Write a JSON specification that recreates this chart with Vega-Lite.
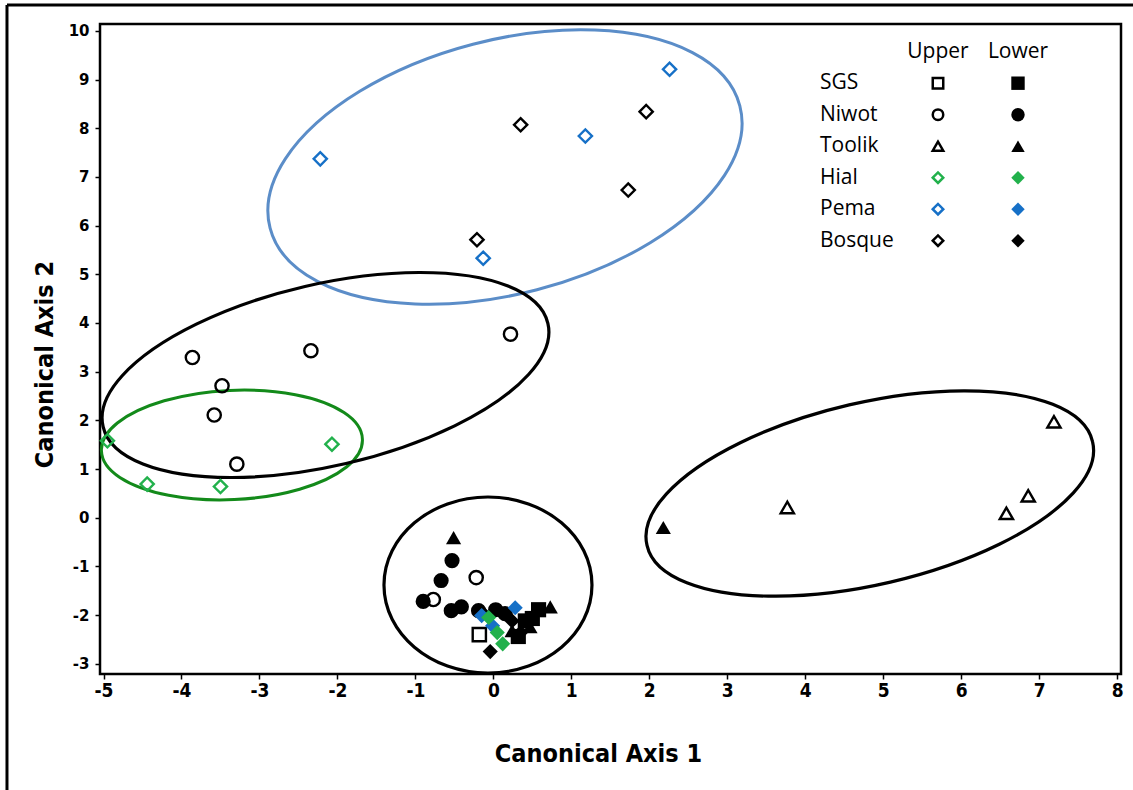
{
  "$schema": "https://vega.github.io/schema/vega-lite/v6.json",
  "width": 1021,
  "height": 650,
  "autosize": "none",
  "padding": {"left": 100, "top": 24, "right": 12, "bottom": 116},
  "background": "white",
  "config": {
    "view": {"stroke": "black", "strokeWidth": 2.5},
    "axisX": {
      "labelExpr": "'' + datum.value",
      "grid": false, "domain": false,
      "tickColor": "black", "tickSize": 5, "tickWidth": 1.5,
      "labelFont": "Liberation Sans Narrow, Arial Narrow, DejaVu Sans Condensed, Liberation Sans, sans-serif", "labelFontWeight": "bold", "labelFontSize": 19, "labelColor": "black", "labelPadding": 2,
      "titleFont": "Liberation Sans Narrow, Arial Narrow, DejaVu Sans Condensed, Liberation Sans, sans-serif", "titleFontWeight": "bold", "titleFontSize": 25, "titleColor": "black",
      "titleX": 498, "titleY": 87, "titleBaseline": "alphabetic", "titleAnchor": "middle", "titleAlign": "center"
    },
    "axisY": {
      "labelExpr": "'' + datum.value",
      "grid": false, "domain": false,
      "tickColor": "black", "tickSize": 5, "tickWidth": 1.5,
      "labelFont": "Verdana, DejaVu Sans, sans-serif", "labelFontWeight": "bold", "labelFontSize": 15, "labelColor": "black", "labelPadding": 6,
      "titleFont": "Liberation Sans Narrow, Arial Narrow, DejaVu Sans Condensed, Liberation Sans, sans-serif", "titleFontWeight": "bold", "titleFontSize": 25, "titleColor": "black",
      "titleX": -48, "titleY": 340, "titleBaseline": "alphabetic", "titleAngle": -90, "titleAlign": "center"
    }
  },
  "datasets": {
    "pts": [
      {"site": "Pema", "elev": "Upper", "ca1": -2.22, "ca2": 7.37},
      {"site": "Pema", "elev": "Upper", "ca1": 1.18, "ca2": 7.84},
      {"site": "Pema", "elev": "Upper", "ca1": 2.26, "ca2": 9.21},
      {"site": "Pema", "elev": "Upper", "ca1": -0.13, "ca2": 5.33},
      {"site": "Bosque", "elev": "Upper", "ca1": 0.35, "ca2": 8.07},
      {"site": "Bosque", "elev": "Upper", "ca1": 1.96, "ca2": 8.34},
      {"site": "Bosque", "elev": "Upper", "ca1": 1.73, "ca2": 6.73},
      {"site": "Bosque", "elev": "Upper", "ca1": -0.21, "ca2": 5.71},
      {"site": "Niwot", "elev": "Upper", "ca1": -3.86, "ca2": 3.29},
      {"site": "Niwot", "elev": "Upper", "ca1": -2.34, "ca2": 3.43},
      {"site": "Niwot", "elev": "Upper", "ca1": 0.22, "ca2": 3.77},
      {"site": "Niwot", "elev": "Upper", "ca1": -3.48, "ca2": 2.71},
      {"site": "Niwot", "elev": "Upper", "ca1": -3.58, "ca2": 2.11},
      {"site": "Niwot", "elev": "Upper", "ca1": -3.29, "ca2": 1.10},
      {"site": "Niwot", "elev": "Upper", "ca1": -0.22, "ca2": -1.23},
      {"site": "Niwot", "elev": "Upper", "ca1": -0.77, "ca2": -1.68},
      {"site": "Hial", "elev": "Upper", "ca1": -2.07, "ca2": 1.51},
      {"site": "Hial", "elev": "Upper", "ca1": -4.95, "ca2": 1.58},
      {"site": "Hial", "elev": "Upper", "ca1": -4.44, "ca2": 0.69},
      {"site": "Hial", "elev": "Upper", "ca1": -3.50, "ca2": 0.64},
      {"site": "Toolik", "elev": "Upper", "ca1": 3.77, "ca2": 0.21},
      {"site": "Toolik", "elev": "Upper", "ca1": 6.58, "ca2": 0.09},
      {"site": "Toolik", "elev": "Upper", "ca1": 6.86, "ca2": 0.45},
      {"site": "Toolik", "elev": "Upper", "ca1": 7.19, "ca2": 1.97},
      {"site": "SGS", "elev": "Upper", "ca1": -0.18, "ca2": -2.40},
      {"site": "Toolik", "elev": "Lower", "ca1": 2.18, "ca2": -0.20},
      {"site": "Toolik", "elev": "Lower", "ca1": -0.51, "ca2": -0.41},
      {"site": "Toolik", "elev": "Lower", "ca1": 0.73, "ca2": -1.83},
      {"site": "Toolik", "elev": "Lower", "ca1": 0.47, "ca2": -2.24},
      {"site": "Toolik", "elev": "Lower", "ca1": 0.24, "ca2": -2.32},
      {"site": "Niwot", "elev": "Lower", "ca1": -0.53, "ca2": -0.88},
      {"site": "Niwot", "elev": "Lower", "ca1": -0.67, "ca2": -1.29},
      {"site": "Niwot", "elev": "Lower", "ca1": -0.90, "ca2": -1.72},
      {"site": "Niwot", "elev": "Lower", "ca1": -0.54, "ca2": -1.91},
      {"site": "Niwot", "elev": "Lower", "ca1": -0.41, "ca2": -1.83},
      {"site": "Niwot", "elev": "Lower", "ca1": -0.19, "ca2": -1.91},
      {"site": "Niwot", "elev": "Lower", "ca1": 0.03, "ca2": -1.89},
      {"site": "Niwot", "elev": "Lower", "ca1": 0.15, "ca2": -1.97},
      {"site": "SGS", "elev": "Lower", "ca1": 0.58, "ca2": -1.89},
      {"site": "SGS", "elev": "Lower", "ca1": 0.41, "ca2": -2.12},
      {"site": "SGS", "elev": "Lower", "ca1": 0.32, "ca2": -2.44},
      {"site": "SGS", "elev": "Lower", "ca1": 0.50, "ca2": -2.07},
      {"site": "Bosque", "elev": "Lower", "ca1": -0.14, "ca2": -1.95},
      {"site": "Bosque", "elev": "Lower", "ca1": 0.24, "ca2": -2.12},
      {"site": "Bosque", "elev": "Lower", "ca1": 0.35, "ca2": -2.36},
      {"site": "Bosque", "elev": "Lower", "ca1": -0.04, "ca2": -2.75},
      {"site": "Pema", "elev": "Lower", "ca1": 0.28, "ca2": -1.85},
      {"site": "Pema", "elev": "Lower", "ca1": -0.15, "ca2": -2.01},
      {"site": "Pema", "elev": "Lower", "ca1": -0.01, "ca2": -2.22},
      {"site": "Hial", "elev": "Lower", "ca1": -0.06, "ca2": -2.05},
      {"site": "Hial", "elev": "Lower", "ca1": 0.05, "ca2": -2.36},
      {"site": "Hial", "elev": "Lower", "ca1": 0.12, "ca2": -2.59}
    ],
    "legendSymbols": [
      {"site": "SGS", "elev": "Upper"}, {"site": "SGS", "elev": "Lower"},
      {"site": "Niwot", "elev": "Upper"}, {"site": "Niwot", "elev": "Lower"},
      {"site": "Toolik", "elev": "Upper"}, {"site": "Toolik", "elev": "Lower"},
      {"site": "Hial", "elev": "Upper"}, {"site": "Hial", "elev": "Lower"},
      {"site": "Pema", "elev": "Upper"}, {"site": "Pema", "elev": "Lower"},
      {"site": "Bosque", "elev": "Upper"}, {"site": "Bosque", "elev": "Lower"}
    ],
    "legendText": [
      {"row": "hdr", "col": "Upper", "label": "Upper"},
      {"row": "hdr", "col": "Lower", "label": "Lower"},
      {"row": "SGS", "col": "label", "label": "SGS"},
      {"row": "Niwot", "col": "label", "label": "Niwot"},
      {"row": "Toolik", "col": "label", "label": "Toolik"},
      {"row": "Hial", "col": "label", "label": "Hial"},
      {"row": "Pema", "col": "label", "label": "Pema"},
      {"row": "Bosque", "col": "label", "label": "Bosque"}
    ]
  },
  "layer": [
    {
      "layer": [
        {
          "data": {"values": [{"cluster": "Pema and Bosque Upper", "cx": 0.149, "cy": 7.203}]},
          "mark": {"type": "point", "shape": "M 0.9677 -0.2521 A 1 0.522 -14.6 1 0 -0.9677 0.2521 A 1 0.522 -14.6 1 0 0.9677 -0.2521 Z", "size": 235613, "filled": false, "stroke": "#5b8dc8", "strokeWidth": 3, "opacity": 1},
          "encoding": {
            "x": {"field": "cx", "type": "quantitative", "scale": {"domain": [-5.045, 8.05], "nice": false, "zero": false}, "title": "Canonical Axis 1", "axis": {"values": [-5, -4, -3, -2, -1, 0, 1, 2, 3, 4, 5, 6, 7, 8]}},
            "y": {"field": "cy", "type": "quantitative", "scale": {"domain": [-3.21, 10.14], "nice": false, "zero": false}, "title": "Canonical Axis 2", "axis": {"values": [-3, -2, -1, 0, 1, 2, 3, 4, 5, 6, 7, 8, 9, 10]}}
          }
        },
        {
          "data": {"values": [{"cluster": "Hial Upper", "cx": -3.353, "cy": 1.493}]},
          "mark": {"type": "point", "shape": "M 0.9989 -0.0462 A 1 0.415 -2.65 1 0 -0.9989 0.0462 A 1 0.415 -2.65 1 0 0.9989 -0.0462 Z", "size": 68225, "filled": false, "stroke": "#138a1a", "strokeWidth": 3, "opacity": 1},
          "encoding": {
            "x": {"field": "cx", "type": "quantitative", "title": "Canonical Axis 1"},
            "y": {"field": "cy", "type": "quantitative", "title": "Canonical Axis 2"}
          }
        },
        {
          "data": {"values": [{"cluster": "Niwot Upper", "cx": -2.153, "cy": 2.931}]},
          "mark": {"type": "point", "shape": "M 0.9741 -0.2261 A 1 0.397 -13.07 1 0 -0.9741 0.2261 A 1 0.397 -13.07 1 0 0.9741 -0.2261 Z", "size": 208484, "filled": false, "stroke": "black", "strokeWidth": 3.2, "opacity": 1},
          "encoding": {
            "x": {"field": "cx", "type": "quantitative", "title": "Canonical Axis 1"},
            "y": {"field": "cy", "type": "quantitative", "title": "Canonical Axis 2"}
          }
        },
        {
          "data": {"values": [{"cluster": "Toolik Upper", "cx": 4.828, "cy": 0.497}]},
          "mark": {"type": "point", "shape": "M 0.974 -0.2265 A 1 0.396 -13.09 1 0 -0.974 0.2265 A 1 0.396 -13.09 1 0 0.974 -0.2265 Z", "size": 209215, "filled": false, "stroke": "black", "strokeWidth": 3.2, "opacity": 1},
          "encoding": {
            "x": {"field": "cx", "type": "quantitative", "title": "Canonical Axis 1"},
            "y": {"field": "cy", "type": "quantitative", "title": "Canonical Axis 2"}
          }
        },
        {
          "data": {"values": [{"cluster": "Lower sites", "cx": -0.069, "cy": -1.382}]},
          "mark": {"type": "point", "shape": "M 1 0 A 1 0.846 0 1 0 -1 0 A 1 0.846 0 1 0 1 0 Z", "size": 43264, "filled": false, "stroke": "black", "strokeWidth": 3.2, "opacity": 1},
          "encoding": {
            "x": {"field": "cx", "type": "quantitative", "title": "Canonical Axis 1"},
            "y": {"field": "cy", "type": "quantitative", "title": "Canonical Axis 2"}
          }
        },
        {
          "data": {"values": [{}]},
          "mark": {"type": "rule", "stroke": "black", "strokeWidth": 3},
          "encoding": {
            "x": {"datum": -6.238, "type": "quantitative", "title": "Canonical Axis 1"},
            "y": {"datum": 10.53, "type": "quantitative", "title": "Canonical Axis 2"},
            "y2": {"datum": -5.9}
          }
        },
        {
          "data": {"values": [{}]},
          "mark": {"type": "rule", "stroke": "black", "strokeWidth": 3},
          "encoding": {
            "x": {"datum": -6.238, "type": "quantitative", "title": "Canonical Axis 1"},
            "x2": {"datum": 8.5},
            "y": {"datum": 10.53, "type": "quantitative", "title": "Canonical Axis 2"}
          }
        },
        {
          "data": {"name": "pts"},
          "transform": [{"filter": {"field": "elev", "equal": "Upper"}}],
          "mark": {"type": "point", "filled": false, "size": 175, "strokeWidth": 2.4, "opacity": 1},
          "encoding": {
            "x": {"field": "ca1", "type": "quantitative", "title": "Canonical Axis 1"},
            "y": {"field": "ca2", "type": "quantitative", "title": "Canonical Axis 2"},
            "shape": {"field": "site", "type": "nominal", "scale": {"domain": ["SGS", "Niwot", "Toolik", "Hial", "Pema", "Bosque"], "range": ["square", "circle", "triangle-up", "diamond", "diamond", "diamond"]}, "legend": null},
            "color": {"field": "site", "type": "nominal", "scale": {"domain": ["SGS", "Niwot", "Toolik", "Hial", "Pema", "Bosque"], "range": ["#000000", "#000000", "#000000", "#22b14c", "#1670c7", "#000000"]}, "legend": null}
          }
        },
        {
          "data": {"name": "pts"},
          "transform": [{"filter": {"field": "elev", "equal": "Lower"}}],
          "mark": {"type": "point", "filled": true, "size": 230, "strokeWidth": 0, "opacity": 1},
          "encoding": {
            "x": {"field": "ca1", "type": "quantitative", "title": "Canonical Axis 1"},
            "y": {"field": "ca2", "type": "quantitative", "title": "Canonical Axis 2"},
            "shape": {"field": "site", "type": "nominal", "legend": null},
            "color": {"field": "site", "type": "nominal", "legend": null}
          }
        }
      ]
    },
    {
      "layer": [
        {
          "data": {"name": "legendText"},
          "transform": [{"filter": "datum.row == 'hdr'"}],
          "mark": {"type": "text", "font": "Open Sans", "fontSize": 21, "align": "center", "baseline": "middle", "color": "black"},
          "encoding": {
            "x": {"field": "col", "type": "nominal", "scale": {"type": "point", "domain": ["label", "Upper", "Lower"], "range": [758, 918], "padding": 0}, "axis": null},
            "y": {"field": "row", "type": "nominal", "scale": {"type": "point", "domain": ["hdr", "SGS", "Niwot", "Toolik", "Hial", "Pema", "Bosque"], "range": [27.7, 216.7], "padding": 0}, "axis": null},
            "text": {"field": "label"}
          }
        },
        {
          "data": {"name": "legendText"},
          "transform": [{"filter": "datum.row != 'hdr'"}],
          "mark": {"type": "text", "font": "Open Sans", "fontSize": 21, "align": "left", "baseline": "middle", "dx": -38, "color": "black"},
          "encoding": {
            "x": {"field": "col", "type": "nominal", "axis": null},
            "y": {"field": "row", "type": "nominal", "axis": null},
            "text": {"field": "label"}
          }
        },
        {
          "data": {"name": "legendSymbols"},
          "transform": [{"filter": {"field": "elev", "equal": "Upper"}}],
          "mark": {"type": "point", "filled": false, "size": 110, "strokeWidth": 2.5, "opacity": 1},
          "encoding": {
            "x": {"field": "elev", "type": "nominal", "axis": null},
            "y": {"field": "site", "type": "nominal", "axis": null},
            "shape": {"field": "site", "type": "nominal", "legend": null},
            "color": {"field": "site", "type": "nominal", "legend": null}
          }
        },
        {
          "data": {"name": "legendSymbols"},
          "transform": [{"filter": {"field": "elev", "equal": "Lower"}}],
          "mark": {"type": "point", "filled": true, "size": 180, "strokeWidth": 0, "opacity": 1},
          "encoding": {
            "x": {"field": "elev", "type": "nominal", "axis": null},
            "y": {"field": "site", "type": "nominal", "axis": null},
            "shape": {"field": "site", "type": "nominal", "legend": null},
            "color": {"field": "site", "type": "nominal", "legend": null}
          }
        }
      ]
    }
  ],
  "resolve": {"scale": {"x": "independent", "y": "independent"}}
}
